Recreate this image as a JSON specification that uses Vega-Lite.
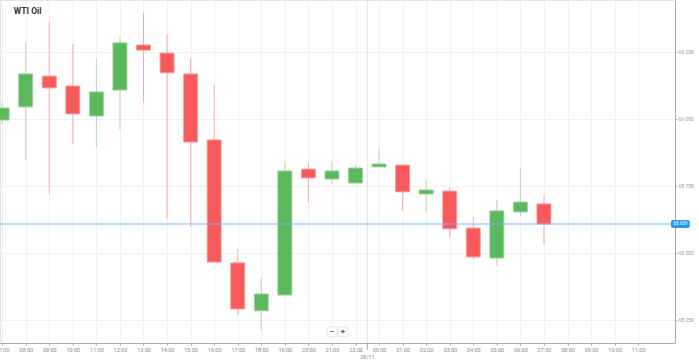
{
  "$schema": "https://vega.github.io/schema/vega-lite/v6.json",
  "width": 675,
  "height": 343,
  "autosize": {"type": "none"},
  "padding": {"left": 0, "top": 0, "right": 24, "bottom": 20},
  "background": "#ffffff",
  "config": {
    "view": {"stroke": "#e4e4e4"},
    "font": "Roboto"
  },
  "data": {
    "values": [
      {"i": 0, "t": "07:00", "open": 68.996, "high": 69.06, "low": 68.98, "close": 69.041},
      {"i": 1, "t": "08:00", "open": 69.045, "high": 69.284, "low": 68.847, "close": 69.168},
      {"i": 2, "t": "09:00", "open": 69.160, "high": 69.362, "low": 68.720, "close": 69.116},
      {"i": 3, "t": "10:00", "open": 69.123, "high": 69.280, "low": 68.907, "close": 69.019},
      {"i": 4, "t": "11:00", "open": 69.011, "high": 69.228, "low": 68.896, "close": 69.101},
      {"i": 5, "t": "12:00", "open": 69.108, "high": 69.306, "low": 68.959, "close": 69.284},
      {"i": 6, "t": "13:00", "open": 69.276, "high": 69.396, "low": 69.060, "close": 69.257},
      {"i": 7, "t": "14:00", "open": 69.246, "high": 69.317, "low": 68.627, "close": 69.172},
      {"i": 8, "t": "15:00", "open": 69.168, "high": 69.228, "low": 68.597, "close": 68.914},
      {"i": 9, "t": "16:00", "open": 68.922, "high": 69.127, "low": 68.463, "close": 68.466},
      {"i": 10, "t": "17:00", "open": 68.463, "high": 68.515, "low": 68.269, "close": 68.291},
      {"i": 11, "t": "18:00", "open": 68.284, "high": 68.407, "low": 68.213, "close": 68.347},
      {"i": 12, "t": "19:00", "open": 68.343, "high": 68.836, "low": 68.341, "close": 68.806},
      {"i": 13, "t": "20:00", "open": 68.813, "high": 68.836, "low": 68.690, "close": 68.780},
      {"i": 14, "t": "21:00", "open": 68.776, "high": 68.843, "low": 68.757, "close": 68.806},
      {"i": 15, "t": "23:00", "open": 68.761, "high": 68.828, "low": 68.760, "close": 68.817},
      {"i": 16, "t": "00:00", "open": 68.821, "high": 68.888, "low": 68.820, "close": 68.832},
      {"i": 17, "t": "01:00", "open": 68.828, "high": 68.829, "low": 68.657, "close": 68.728},
      {"i": 18, "t": "02:00", "open": 68.720, "high": 68.776, "low": 68.649, "close": 68.735},
      {"i": 19, "t": "03:00", "open": 68.731, "high": 68.746, "low": 68.560, "close": 68.590},
      {"i": 20, "t": "04:00", "open": 68.593, "high": 68.634, "low": 68.478, "close": 68.485},
      {"i": 21, "t": "05:00", "open": 68.481, "high": 68.698, "low": 68.452, "close": 68.657},
      {"i": 22, "t": "06:00", "open": 68.653, "high": 68.817, "low": 68.638, "close": 68.690},
      {"i": 23, "t": "07:00", "open": 68.683, "high": 68.713, "low": 68.534, "close": 68.608}
    ]
  },
  "encoding": {
    "x": {
      "field": "i",
      "type": "quantitative",
      "scale": {"domain": [0.121, 28.35], "nice": false, "zero": false},
      "axis": {
        "orient": "bottom",
        "title": null,
        "values": [0,1,2,3,4,5,6,7,8,9,10,11,12,13,14,15,16,17,18,19,20,21,22,23,24,25,26,27],
        "labelExpr": "datum.value <= 14 ? ((datum.value + 7 < 10 ? '0' : '') + (datum.value + 7) + ':00') : ((((datum.value + 8) % 24) < 10 ? '0' : '') + ((datum.value + 8) % 24) + ':00')",
        "labelFontSize": 5.5,
        "labelColor": "#888888",
        "labelPadding": 2,
        "labelOverlap": false,
        "labelFlush": false,
        "tickSize": 2,
        "tickColor": "#aaaaaa",
        "domainColor": "#aaaaaa",
        "grid": true,
        "gridColor": "#f1f1f1"
      }
    }
  },
  "layer": [
    {
      "mark": {"type": "rule", "strokeWidth": 1},
      "encoding": {
        "y": {
          "field": "low",
          "type": "quantitative",
          "scale": {"domain": [68.164, 69.444], "nice": false, "zero": false},
          "axis": {
            "orient": "right",
            "title": null,
            "values": [68.25, 68.5, 68.75, 69.0, 69.25],
            "format": ".3f",
            "labelFontSize": 5,
            "labelColor": "#999999",
            "labelPadding": 1,
            "tickSize": 2,
            "tickColor": "#aaaaaa",
            "domainColor": "#aaaaaa",
            "grid": true,
            "gridColor": "#f1f1f1"
          }
        },
        "y2": {"field": "high"},
        "color": {
          "condition": {"test": "datum.close >= datum.open", "value": "#b3dcae"},
          "value": "#f9abab"
        }
      }
    },
    {
      "transform": [{"filter": "datum.i == 0"}],
      "mark": {"type": "rule", "color": "#e2e2e2", "strokeWidth": 1},
      "encoding": {"x": {"datum": 15.5}}
    },
    {
      "transform": [{"filter": "datum.i == 0"}],
      "mark": {"type": "rule", "color": "#aaaaaa", "strokeWidth": 1},
      "encoding": {"x": {"datum": 15.5}, "y": {"datum": 68.164}, "y2": {"datum": 68.138}}
    },
    {
      "transform": [{"filter": "datum.i == 0"}],
      "mark": {"type": "text", "text": "28/11", "fontSize": 5.5, "color": "#888888", "baseline": "middle"},
      "encoding": {"x": {"datum": 15.5}, "y": {"datum": 68.111}}
    },
    {
      "mark": {"type": "bar", "size": 14, "strokeWidth": 1},
      "encoding": {
        "y": {"field": "open", "type": "quantitative"},
        "y2": {"field": "close"},
        "color": {
          "condition": {"test": "datum.close >= datum.open", "value": "#5cb85c"},
          "value": "#f75a5a"
        },
        "stroke": {
          "condition": {"test": "datum.close >= datum.open", "value": "#9fd39f"},
          "value": "#fb9d9d"
        }
      }
    },
    {
      "transform": [{"filter": "datum.i == 0"}],
      "mark": {"type": "rule", "color": "#64b5f6", "strokeWidth": 1.5, "opacity": 0.6, "clip": true},
      "encoding": {"x": {"datum": -1}, "x2": {"datum": 28.5}, "y": {"datum": 68.608}}
    },
    {
      "transform": [{"filter": "datum.i == 0"}],
      "mark": {"type": "rect", "fill": "#2196f3", "cornerRadius": 2},
      "encoding": {
        "x": {"datum": 28.394}, "x2": {"datum": 29.19},
        "y": {"datum": 68.623}, "y2": {"datum": 68.593}
      }
    },
    {
      "transform": [{"filter": "datum.i == 0"}],
      "mark": {"type": "text", "text": "68.609", "fontSize": 4.5, "color": "#ffffff", "baseline": "middle", "align": "center"},
      "encoding": {"x": {"datum": 28.79}, "y": {"datum": 68.608}}
    },
    {
      "transform": [{"filter": "datum.i == 0"}],
      "mark": {"type": "text", "text": "WTI Oil", "fontSize": 8.5, "fontWeight": "bold", "color": "#333333", "baseline": "middle", "align": "left"},
      "encoding": {"x": {"datum": 0.497}, "y": {"datum": 69.403}}
    },
    {
      "transform": [{"filter": "datum.i == 0"}],
      "mark": {"type": "rect", "fill": "#ffffff", "stroke": "#dddddd", "strokeWidth": 0.8, "cornerRadius": 1.5},
      "encoding": {
        "x": {"datum": 13.797}, "x2": {"datum": 14.215},
        "y": {"datum": 68.224}, "y2": {"datum": 68.187}
      }
    },
    {
      "transform": [{"filter": "datum.i == 0"}],
      "mark": {"type": "rect", "fill": "#ffffff", "stroke": "#dddddd", "strokeWidth": 0.8, "cornerRadius": 1.5},
      "encoding": {
        "x": {"datum": 14.257}, "x2": {"datum": 14.675},
        "y": {"datum": 68.224}, "y2": {"datum": 68.187}
      }
    },
    {
      "transform": [{"filter": "datum.i == 0"}],
      "mark": {"type": "text", "text": "−", "fontSize": 8, "fontWeight": "bold", "color": "#555555", "baseline": "middle", "align": "center"},
      "encoding": {"x": {"datum": 14.006}, "y": {"datum": 68.2055}}
    },
    {
      "transform": [{"filter": "datum.i == 0"}],
      "mark": {"type": "text", "text": "+", "fontSize": 8, "fontWeight": "bold", "color": "#555555", "baseline": "middle", "align": "center"},
      "encoding": {"x": {"datum": 14.466}, "y": {"datum": 68.2055}}
    }
  ]
}
